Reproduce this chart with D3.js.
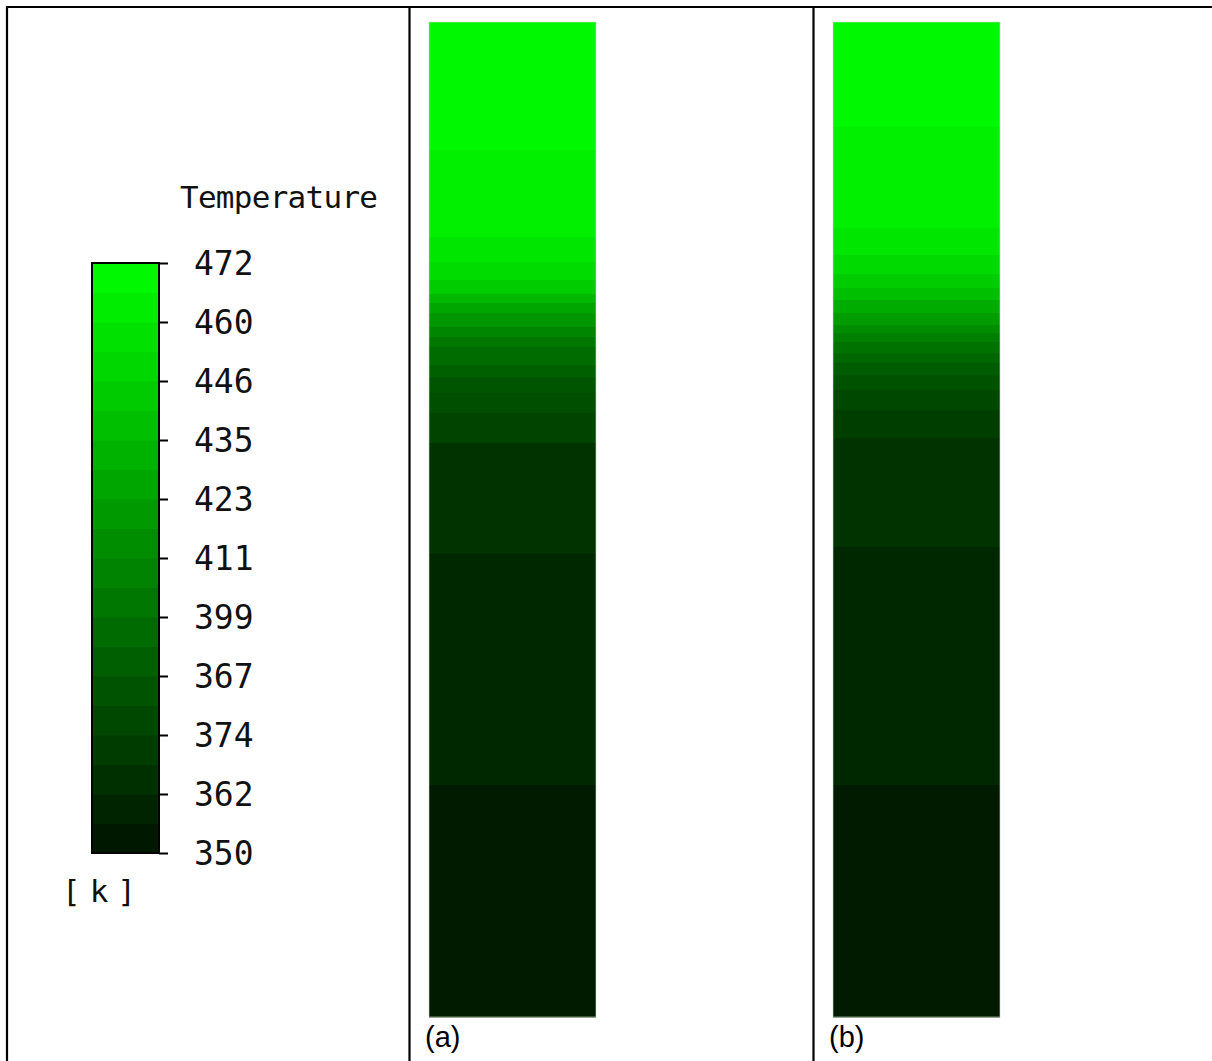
<!DOCTYPE html>
<html>
<head>
<meta charset="utf-8">
<script src="https://cdn.jsdelivr.net/npm/d3@7"></script>
<style>
  html, body { margin: 0; padding: 0; background: #fff; }
  svg { display: block; }
</style>
</head>
<body>
<script>
// ---------------- DATA ----------------
const tempMin = 350, tempMax = 472;
// legend tick labels, bottom -> top (as printed on the original legend)
const tickLabels = ["350", "362", "374", "367", "399", "411", "423", "435", "446", "460", "472"];
const legendTitle = "Temperature";
const legendUnit = "[ k ]";
const legendSteps = 20;

const panels = ["(a)", "(b)"];
// band boundaries along the column (0 = top, 1 = bottom)
const boundariesA = [0.1286, 0.2161, 0.2412, 0.2593, 0.2734, 0.2824, 0.2925, 0.3065, 0.3166,
                     0.3266, 0.3447, 0.3568, 0.3719, 0.3920, 0.4231, 0.5337, 0.7668];
const tempsA = [468.4, 464.3, 459.1, 454.0, 445.8, 435.5, 426.2, 418.0, 409.7,
                402.5, 396.3, 390.2, 385.0, 380.9, 375.7, 367.0, 361.3, 354.6];
const boundariesB = [0.1055, 0.2070, 0.2342, 0.2533, 0.2673, 0.2794, 0.2925, 0.3045, 0.3126,
                     0.3216, 0.3327, 0.3427, 0.3548, 0.3698, 0.3899, 0.4181, 0.5276, 0.7668];
const tempsB = [468.4, 464.3, 459.1, 453.0, 445.8, 438.5, 429.3, 421.0, 412.8, 405.6,
                399.4, 393.2, 388.1, 382.9, 377.8, 372.7, 367.0, 361.3, 354.6];

// ---------------- BUILD ----------------
const W = 1212, H = 1061;
const svg = d3.select("body").append("svg").attr("width", W).attr("height", H);
svg.append("rect").attr("width", W).attr("height", H).attr("fill", "#fff");

const color = d3.scaleLinear().domain([tempMin, tempMax])
  .range(["#001200", "#00ff00"]).interpolate(d3.interpolateRgb);

// ---- table frame ----
const frame = svg.append("g").attr("stroke", "#000").attr("stroke-width", 2.2);
frame.append("line").attr("x1", 6).attr("x2", W).attr("y1", 7).attr("y2", 7);
frame.append("line").attr("x1", 7).attr("x2", 7).attr("y1", 6).attr("y2", H);

const panelScale = d3.scaleBand().domain(panels).range([409.5, 1217.5]);
panels.forEach(p => {
  frame.append("line")
    .attr("x1", panelScale(p)).attr("x2", panelScale(p))
    .attr("y1", 6).attr("y2", H);
});

// ---- legend ----
const legY = d3.scaleLinear().domain([tempMin, tempMax]).range([853, 263]);
const legX0 = 92, legX1 = 159;
const stepSize = (tempMax - tempMin) / legendSteps;
const steps = d3.range(legendSteps).map(i => tempMin + i * stepSize);
svg.append("g").selectAll("rect").data(steps).join("rect")
  .attr("x", legX0).attr("width", legX1 - legX0)
  .attr("y", d => legY(d + stepSize))
  .attr("height", d => legY(d) - legY(d + stepSize) + 0.5)
  .attr("fill", d => color(d + stepSize / 2));
svg.append("rect").attr("x", legX0).attr("y", legY(tempMax))
  .attr("width", legX1 - legX0).attr("height", legY(tempMin) - legY(tempMax))
  .attr("fill", "none").attr("stroke", "#000").attr("stroke-width", 2);

const tickVals = tickLabels.map((_, i) => tempMin + i * (tempMax - tempMin) / (tickLabels.length - 1));
const axis = d3.axisRight(legY).tickValues(tickVals)
  .tickFormat((d, i) => tickLabels[i]).tickSize(9).tickPadding(26);
const ag = svg.append("g").attr("transform", `translate(${legX1},0)`).call(axis);
ag.select(".domain").remove();
ag.selectAll(".tick line").attr("stroke", "#000").attr("stroke-width", 2);
ag.selectAll(".tick text")
  .attr("fill", "#111")
  .style("font-family", "'DejaVu Sans Mono', monospace")
  .style("font-size", "33px")
  .attr("dy", "0.36em");

svg.append("text").attr("x", 180).attr("y", 208)
  .attr("textLength", 198).attr("lengthAdjust", "spacing")
  .style("font-family", "'DejaVu Sans Mono', monospace").style("font-size", "31px")
  .attr("fill", "#111").text(legendTitle);

svg.append("text").attr("x", 62).attr("y", 902)
  .attr("textLength", 74).attr("lengthAdjust", "spacing")
  .style("font-family", "'DejaVu Sans Mono', monospace").style("font-size", "31px")
  .attr("fill", "#111").text(legendUnit);

// ---- columns ----
const posY = d3.scaleLinear().domain([0, 1]).range([22, 1017]);
const colOffset = 19.5, colWidth = 167;
const columns = [
  { name: "(a)", boundaries: boundariesA, temps: tempsA },
  { name: "(b)", boundaries: boundariesB, temps: tempsB }
];
columns.forEach(c => {
  const edges = [0, ...c.boundaries, 1];
  const bands = c.temps.map((t, i) => ({ t, y0: edges[i], y1: edges[i + 1] }));
  const x = panelScale(c.name) + colOffset;
  const g = svg.append("g");
  g.selectAll("rect").data(bands).join("rect")
    .attr("x", x).attr("width", colWidth)
    .attr("y", d => posY(d.y0))
    .attr("height", d => posY(d.y1) - posY(d.y0) + 0.5)
    .attr("fill", d => color(d.t));
  g.append("rect").attr("x", x).attr("y", posY(0)).attr("width", colWidth)
    .attr("height", posY(1) - posY(0)).attr("fill", "none")
    .attr("stroke", "rgba(200,220,200,0.6)").attr("stroke-width", 1);
  svg.append("text").attr("x", panelScale(c.name) + 15.5).attr("y", 1047)
    .style("font-family", "'Liberation Sans', Arial, sans-serif").style("font-size", "29px")
    .attr("fill", "#000").text(c.name);
});
</script>
</body>
</html>
